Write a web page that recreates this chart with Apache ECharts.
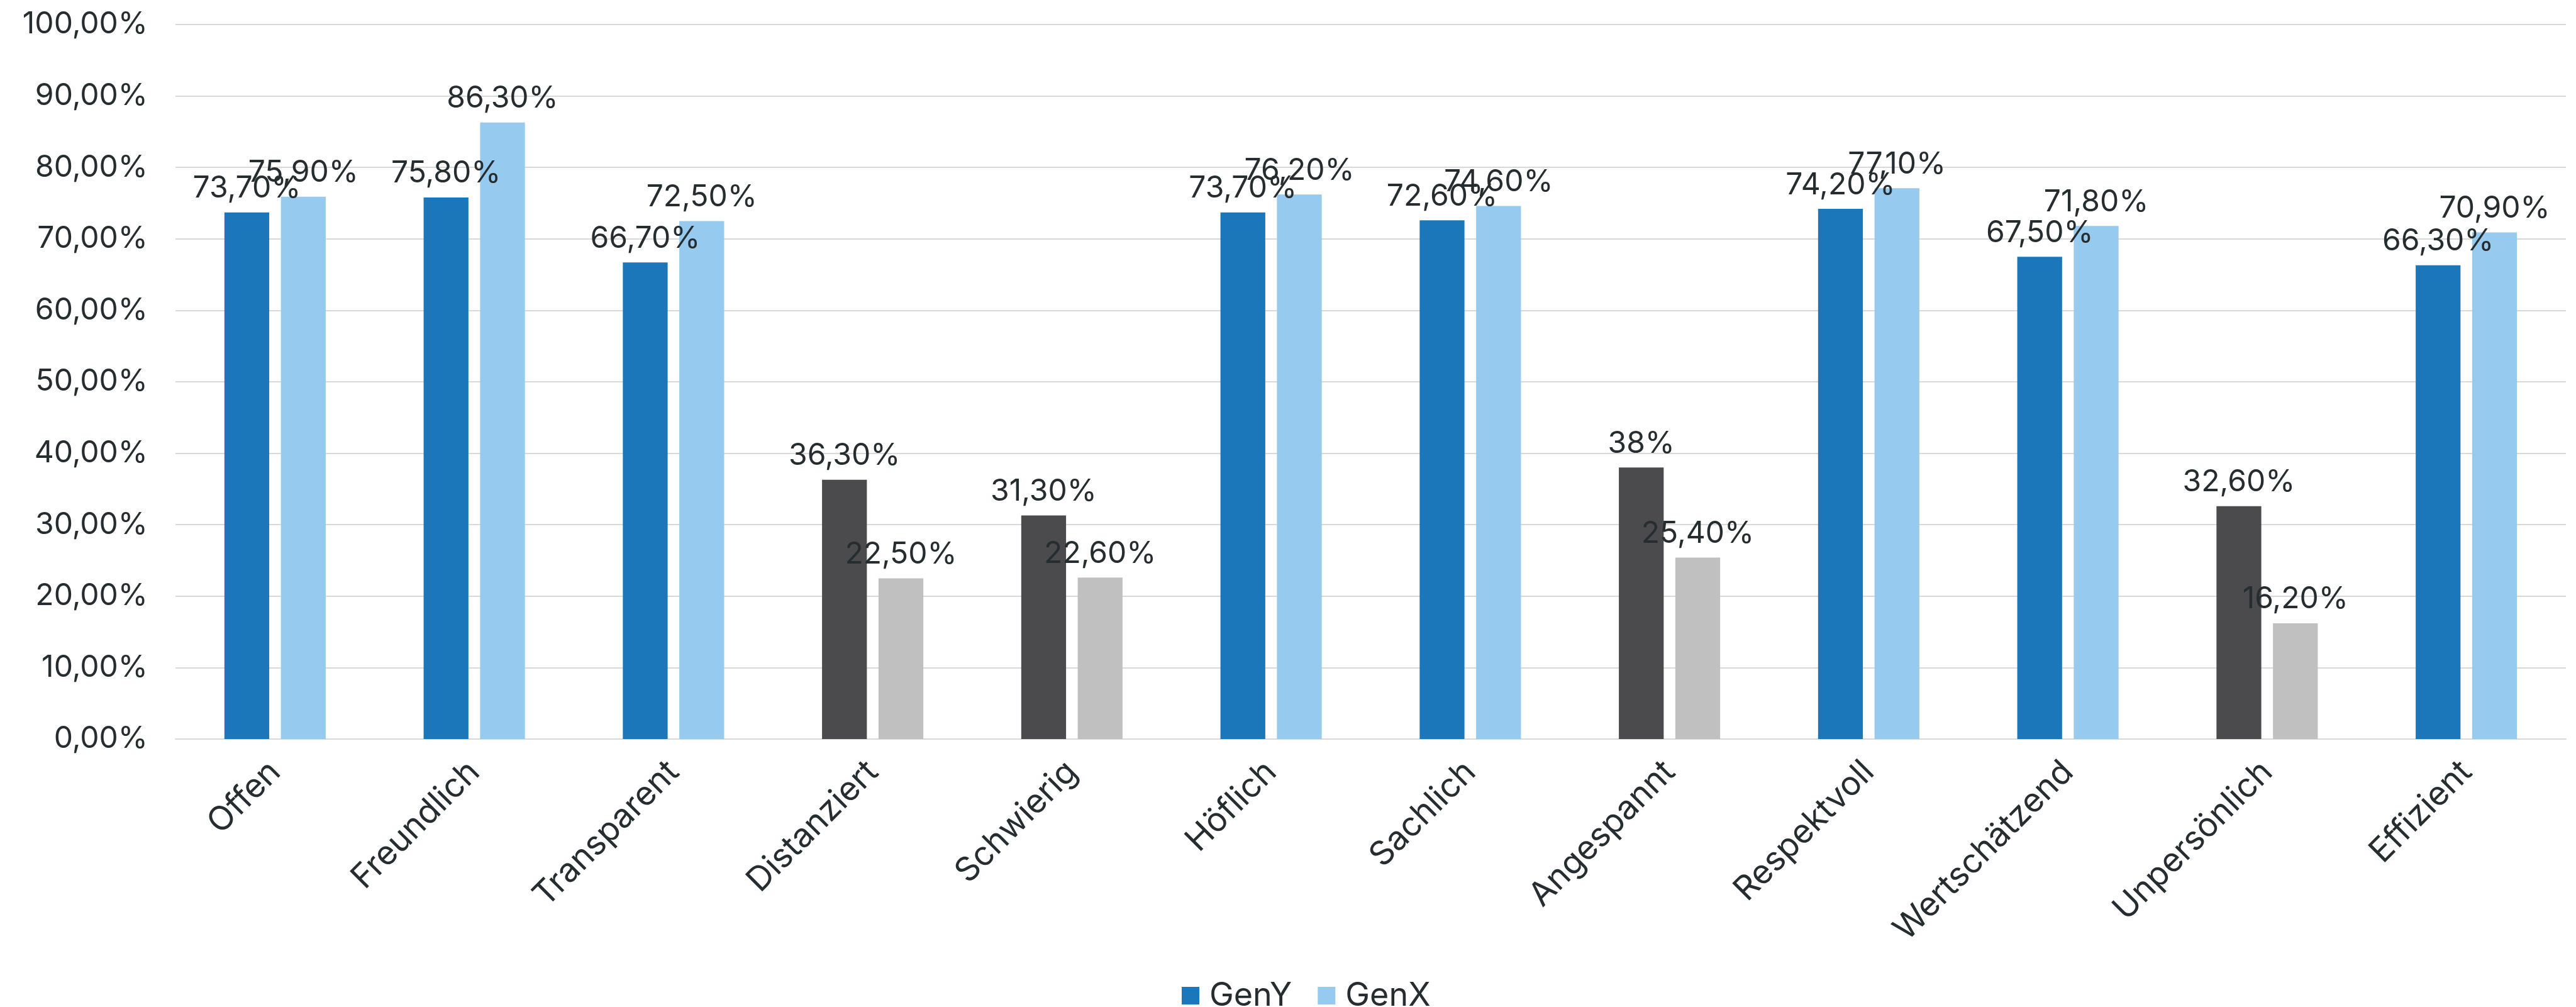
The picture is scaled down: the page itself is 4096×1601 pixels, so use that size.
<!DOCTYPE html>
<html>
<head>
<meta charset="utf-8">
<script src="https://cdn.jsdelivr.net/npm/echarts@6/dist/echarts.min.js"></script>
<style>
  html, body { margin: 0; padding: 0; background: #ffffff; }
  #chart { width: 4096px; height: 1601px; }
</style>
</head>
<body>
<div id="chart"></div>
<script>
// Attributes describing the communication, in axis order
const categories = ['Offen', 'Freundlich', 'Transparent', 'Distanziert', 'Schwierig', 'Höflich',
  'Sachlich', 'Angespannt', 'Respektvoll', 'Wertschätzend', 'Unpersönlich', 'Effizient'];
// true = negative attribute (drawn in grey)
const negative = [false, false, false, true, true, false, false, true, false, false, true, false];
// Share of respondents, percent
const genY = [73.7, 75.8, 66.7, 36.3, 31.3, 73.7, 72.6, 38, 74.2, 67.5, 32.6, 66.3];
const genX = [75.9, 86.3, 72.5, 22.5, 22.6, 76.2, 74.6, 25.4, 77.1, 71.8, 16.2, 70.9];
const seriesNames = ['GenY', 'GenX'];
const yTicks = { min: 0, max: 100, interval: 10 };

const FONT = 'Inter, "Noto Sans", sans-serif';
const TEXT = '#262d30';
const colors = {
  GenY: { pos: '#1b77ba', neg: '#4b4b4d' },
  GenX: { pos: '#96caee', neg: '#c0c0c0' }
};

function pct(v) {
  const s = Number.isInteger(v) ? String(v) : v.toFixed(2).replace('.', ',');
  return s + '%';
}

function makeSeries(name, values) {
  return {
    name: name,
    type: 'bar',
    barWidth: '22.5%',
    barGap: '26%',
    data: values.map((v, i) => ({
      value: v,
      itemStyle: { color: negative[i] ? colors[name].neg : colors[name].pos }
    })),
    itemStyle: { color: colors[name].pos },
    label: {
      show: true,
      position: 'top',
      distance: 14,
      fontFamily: FONT,
      fontSize: 48,
      color: TEXT,
      formatter: p => pct(p.value)
    }
  };
}

const chart = echarts.init(document.getElementById('chart'), null, { renderer: 'canvas' });
chart.setOption({
  animation: false,
  backgroundColor: '#ffffff',
  textStyle: { fontFamily: FONT },
  grid: { left: 279, right: 16, top: 39, bottom: 426, containLabel: false },
  legend: {
    data: seriesNames,
    left: 1874,
    top: 1552,
    itemWidth: 28,
    itemHeight: 28,
    itemGap: 41,
    icon: 'rect',
    textStyle: { fontFamily: FONT, fontSize: 52, color: TEXT, padding: [0, 0, 0, 11] }
  },
  xAxis: {
    type: 'category',
    data: categories,
    axisLine: { show: true, lineStyle: { color: '#d9d9d9', width: 2 } },
    axisTick: { show: false },
    axisLabel: {
      rotate: 45,
      margin: 44,
      fontFamily: FONT,
      fontSize: 53,
      color: TEXT,
      interval: 0
    }
  },
  yAxis: {
    type: 'value',
    min: yTicks.min,
    max: yTicks.max,
    interval: yTicks.interval,
    axisLine: { show: false },
    axisTick: { show: false },
    splitLine: { lineStyle: { color: '#d9d9d9', width: 2 } },
    axisLabel: {
      margin: 44,
      fontFamily: FONT,
      fontSize: 48,
      color: TEXT,
      formatter: v => v.toFixed(2).replace('.', ',') + '%'
    }
  },
  series: [makeSeries('GenY', genY), makeSeries('GenX', genX)]
});
</script>
</body>
</html>
